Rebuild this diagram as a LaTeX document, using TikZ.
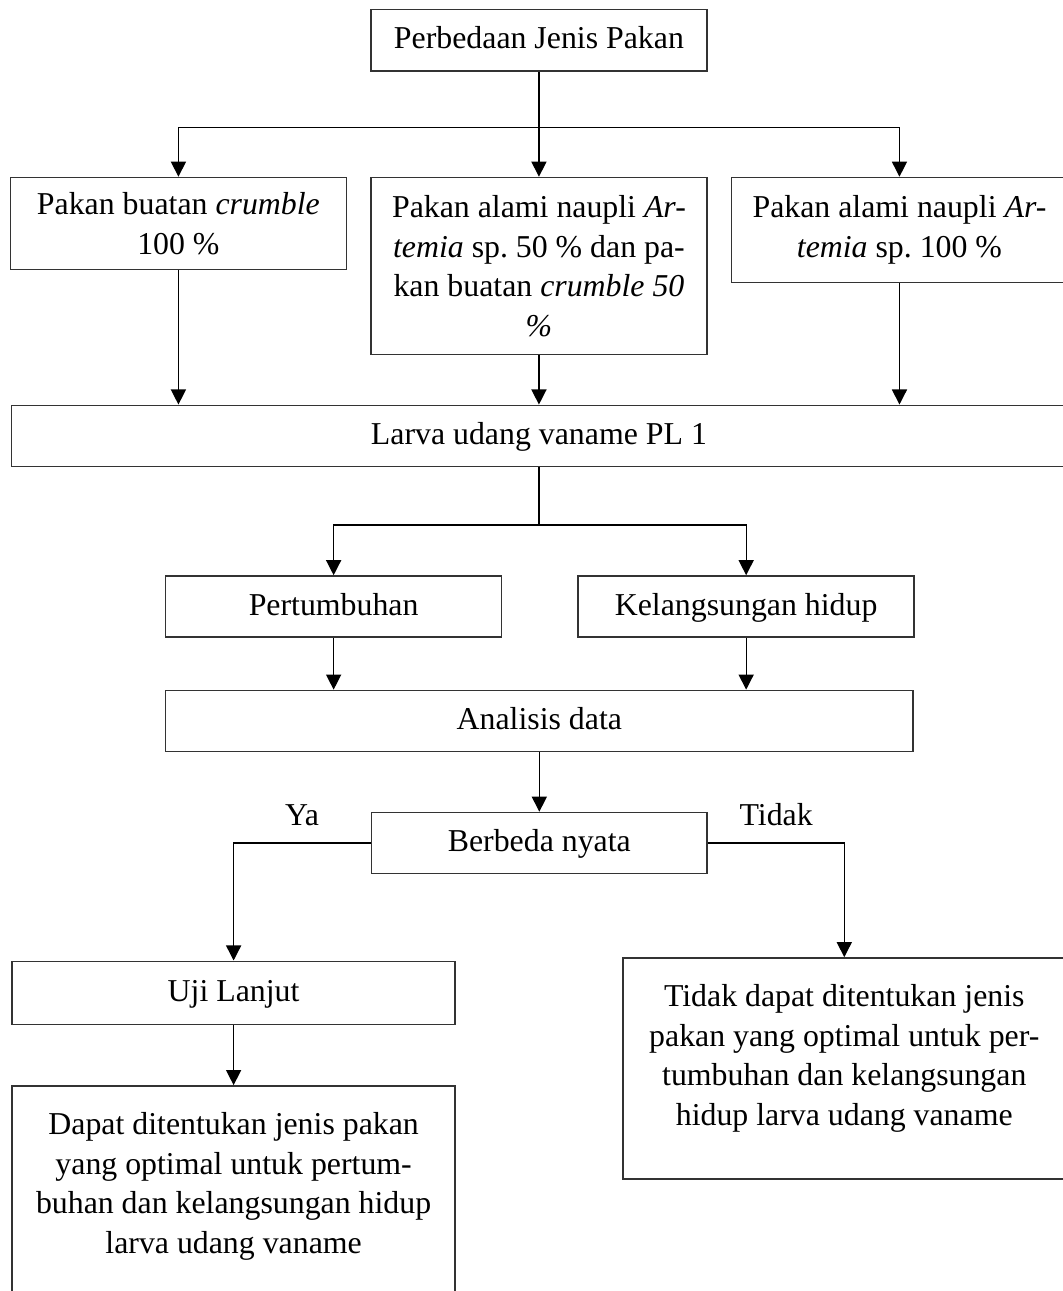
\documentclass[tikz,border=0pt]{standalone}
\usepackage{fontspec}
\setmainfont{Liberation Serif}
\usetikzlibrary{positioning,arrows.meta}

\begin{document}
\begin{tikzpicture}[
  font=\fontsize{12}{14.9}\selectfont,
  >={Triangle[length=2mm, width=2mm]},
  box/.style={draw=black!80, line width=0.6pt, align=center, inner sep=3pt,
              minimum width=44.5mm, minimum height=8.1mm},
  satu/.style={box, text height=0.66em, text depth=0pt},
  flow/.style={->, line width=0.5pt},
  link/.style={line width=0.5pt},
  jawab/.style={inner sep=0pt, above=2.2mm},
]

% ---------- page frame ----------
\useasboundingbox (-71.4mm,5.33mm) rectangle (69.3mm,-165.7mm);

% ---------- perlakuan pakan ----------
\node[satu, minimum height=8.15mm] (jenis) {Perbedaan Jenis Pakan};
\node[box, below=13.9mm of jenis, minimum height=23.45mm]
  (campuran) {Pakan alami naupli \textit{Ar-}\\\textit{temia} sp.\ 50 \% dan pa-\\kan buatan \textit{crumble 50}\\\textit{\%}};
\node[box, left=3.05mm of campuran.north west, anchor=north east, minimum height=12.2mm]
  (buatan) {Pakan buatan \textit{crumble}\\100 \%};
\node[box, right=3.05mm of campuran.north east, anchor=north west, minimum height=13.9mm]
  (alami) {Pakan alami naupli \textit{Ar-}\\\textit{temia} sp.\ 100 \%};

\coordinate[below=7.42mm of jenis] (cabang1);
\draw[flow] (jenis) -- (campuran);
\draw[flow] (cabang1) -| (buatan.north);
\draw[flow] (cabang1) -| (alami.north);

% ---------- hewan uji ----------
\node[satu, below=6.52mm of campuran, minimum width=139.7mm] (larva) {Larva udang vaname PL 1};
\draw[flow] (buatan) -- (buatan |- larva.north);
\draw[flow] (campuran) -- (larva);
\draw[flow] (alami) -- (alami |- larva.north);

% ---------- parameter ----------
\node[satu, below=14.3mm of larva, xshift=-27.2mm] (tumbuh) {Pertumbuhan};
\node[satu, right=9.94mm of tumbuh] (hidup) {Kelangsungan hidup};
\coordinate[below=7.66mm of larva] (cabang2);
\draw[link] (larva) -- (cabang2);
\draw[flow] (cabang2) -| (tumbuh.north);
\draw[flow] (cabang2) -| (hidup.north);

% ---------- analisis ----------
\node[satu, below=6.85mm of tumbuh.south west, anchor=north west, minimum width=99mm]
  (analisis) {Analisis data};
\draw[flow] (tumbuh) -- (tumbuh |- analisis.north);
\draw[flow] (hidup) -- (hidup |- analisis.north);

\node[satu, below=7.86mm of analisis] (nyata) {Berbeda nyata};
\draw[flow] (analisis) -- (nyata);

% ---------- keputusan ----------
\node[satu, below=11.4mm of nyata, xshift=-40.5mm, minimum width=58.7mm, minimum height=8.35mm]
  (uji) {Uji Lanjut};
\node[box, below=7.95mm of uji, minimum width=58.7mm, minimum height=29.3mm]
  (dapat) {Dapat ditentukan jenis pakan\\yang optimal untuk pertum-\\buhan dan kelangsungan hidup\\larva udang vaname\\[-4.5pt]\mbox{}};
\node[box, below=10.96mm of nyata, xshift=40.4mm, minimum width=58.7mm, minimum height=29.3mm]
  (tidakdapat) {Tidak dapat ditentukan jenis\\pakan yang optimal untuk per-\\tumbuhan dan kelangsungan\\hidup larva udang vaname\\[-4.5pt]\mbox{}};

\draw[flow] (nyata.west) -| node[jawab, pos=0.25] {Ya} (uji.north);
\draw[flow] (nyata.east) -| node[jawab, pos=0.25] {Tidak} (tidakdapat.north);
\draw[flow] (uji) -- (dapat);

\end{tikzpicture}
\end{document}
